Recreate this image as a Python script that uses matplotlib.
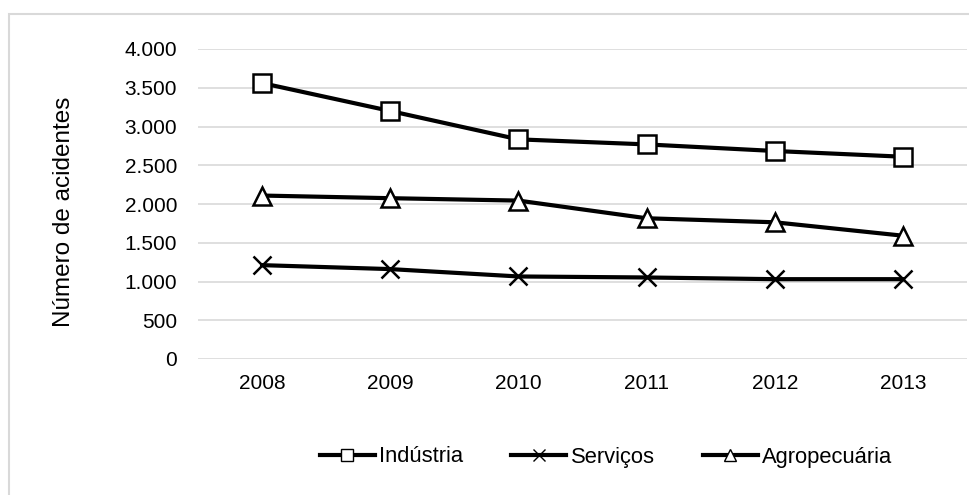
import matplotlib
matplotlib.use("Agg")
import matplotlib.pyplot as plt
from matplotlib.patches import Rectangle
from matplotlib.ticker import FuncFormatter

years = ["2008", "2009", "2010", "2011", "2012", "2013"]
industria = [3560, 3200, 2834, 2769, 2684, 2610]
servicos = [1211, 1160, 1065, 1052, 1030, 1030]
agropecuaria = [2109, 2075, 2044, 1816, 1764, 1591]
yticks = [0, 500, 1000, 1500, 2000, 2500, 3000, 3500, 4000]

plt.rcParams['font.family'] = ['Liberation Sans', 'DejaVu Sans']
fs = 15

fig = plt.figure(figsize=(9.7, 4.95), dpi=100)
ax = fig.add_axes([198/970, 1-359/495, (967-198)/970, (359-49)/495])

x = list(range(len(years)))
ax.plot(x, industria, color='black', lw=3, marker='s', ms=13, mfc='white', mec='black', mew=1.8, label='Indústria', zorder=3)
ax.plot(x, servicos, color='black', lw=3, marker='x', ms=13, mec='black', mew=1.8, label='Serviços', zorder=3)
ax.plot(x, agropecuaria, color='black', lw=3, marker='^', ms=13, mfc='white', mec='black', mew=1.8, label='Agropecuária', zorder=3)

ax.set_xlim(-0.5, len(years)-0.5)
ax.set_ylim(0, 4000)
ax.set_yticks(yticks)
ax.yaxis.set_major_formatter(FuncFormatter(lambda v, p: f"{int(v):,}".replace(",", ".")))
ax.set_xticks(x)
ax.set_xticklabels(years)
ax.tick_params(axis='both', length=0, labelsize=fs, colors='black')
ax.tick_params(axis='y', pad=15)
ax.tick_params(axis='x', pad=11)
ax.grid(axis='y', color='#d9d9d9', lw=1.2)
ax.set_axisbelow(True)
for s in ax.spines.values():
    s.set_visible(False)

fig.text(64/970, 1-212/495, "Número de acidentes", rotation=90, ha='center', va='center', fontsize=17.5)

leg = fig.legend(loc='center', bbox_to_anchor=(606/970, 1-457/495), ncol=3, frameon=False,
                 fontsize=15.8, handlelength=2.5, handletextpad=0.2, columnspacing=2.2, markerscale=0.7)
for h in leg.legend_handles:
    h.set_markeredgewidth(1.0)

fig.add_artist(Rectangle((9.5/970, -0.1), 1.2, 1.1 - 13.5/495, transform=fig.transFigure,
                         fill=False, ec='#d9d9d9', lw=1.5, clip_on=False))

fig.savefig("out.png", dpi=100)
